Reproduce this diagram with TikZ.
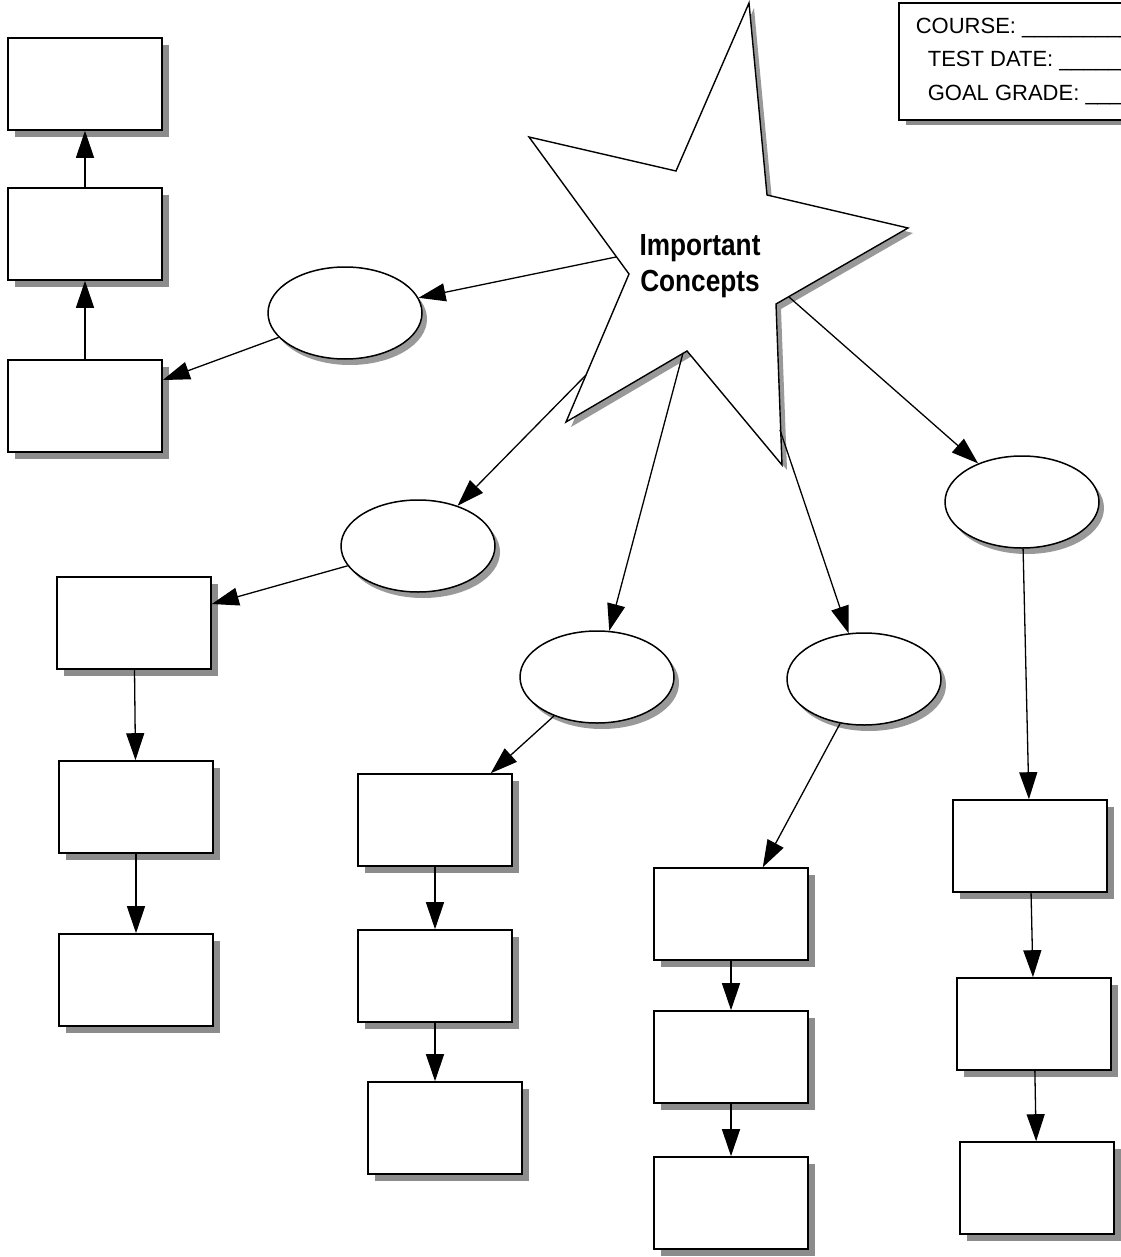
\documentclass[tikz,border=0pt]{standalone}
\usepackage{fontspec}
\setmainfont{Liberation Sans}
\newfontfamily\narrowsans[FakeStretch=0.86]{Liberation Sans}
\usetikzlibrary{arrows.meta,shadows,shapes.geometric}

\begin{document}
\begin{tikzpicture}[x=1pt,y=-1pt,
    box/.style={draw,line width=1.6pt,fill=white,minimum width=154pt,minimum height=92pt,inner sep=0pt,
        drop shadow={shadow xshift=7pt,shadow yshift=-7pt,fill=black!45,opacity=1}},
    blob/.style={draw,ellipse,line width=1.5pt,fill=white,minimum width=154pt,minimum height=92pt,inner sep=0pt,
        drop shadow={shadow xshift=5pt,shadow yshift=-6pt,fill=black,opacity=0.4}},
    arr/.style={line width=1.3pt,-{Triangle[length=27pt,width=18pt]}}]
    \useasboundingbox[fill=white] (0,0) rectangle (1120,1257);

    % Header box
    \node[draw,line width=1.6pt,fill=white,anchor=north west,minimum width=300pt,minimum height=117pt,
        inner xsep=17pt,align=left,font=\fontsize{22}{33.5}\selectfont,
        drop shadow={shadow xshift=7pt,shadow yshift=-5pt,fill=black!45,opacity=1}]
        (course) at (898,2) {COURSE: \_\_\_\_\_\_\_\_\_\_\_\_\\
        \hspace*{12pt}TEST DATE: \_\_\_\_\_\_\_\_\_\_\\
        \hspace*{12pt}GOAL GRADE: \_\_\_\_\_\_\_\_};

    % Star
    \filldraw[fill=white,line width=1.4pt,line join=miter,
        drop shadow={shadow xshift=5pt,shadow yshift=-5pt,fill=black,opacity=0.4}]
        (749,3) -- (767,195) -- (908,228) -- (776,304) -- (782,465) -- (687,351)
        -- (566,422) -- (629,274) -- (529,137) -- (676,171) -- cycle;
    \node[font=\narrowsans\fontsize{30.5}{36}\selectfont\bfseries,align=center] (star) at (700,266) {Important\\Concepts};
    \coordinate (s1) at (616,257);
    \coordinate (s2) at (586,375);
    \coordinate (s3) at (683,353);
    \coordinate (s4) at (780,430);
    \coordinate (s5) at (789,297);

    % Ovals
    \node[blob] (e1) at (345,313) {};
    \node[blob] (e2) at (418,546) {};
    \node[blob] (e3) at (597,677) {};
    \node[blob] (e4) at (864,679) {};
    \node[blob] (e5) at (1022,502) {};

    % Boxes
    \node[box] (b1) at (85,84) {};
    \node[box] (b2) at (85,234) {};
    \node[box] (b3) at (85,406) {};
    \node[box] (b4) at (134,623) {};
    \node[box] (b5) at (136,807) {};
    \node[box] (b6) at (136,980) {};
    \node[box] (b7) at (435,820) {};
    \node[box] (b8) at (435,976) {};
    \node[box] (b9) at (445,1128) {};
    \node[box] (b10) at (731,914) {};
    \node[box] (b11) at (731,1057) {};
    \node[box] (b12) at (731,1203) {};
    \node[box] (b13) at (1030,846) {};
    \node[box] (b14) at (1034,1024) {};
    \node[box] (b15) at (1037,1188) {};

    % Connections
    \draw[arr] (s1) -- (e1);
    \draw[arr] (s2) -- (e2);
    \draw[arr] (s3) -- (e3);
    \draw[arr] (s4) -- (e4);
    \draw[arr] (s5) -- (e5);

    \draw[arr] (e1) -- ([yshift=26pt]b3.east);
    \draw[arr] (b3) -- (b2);
    \draw[arr] (b2) -- (b1);

    \draw[arr] (e2) -- ([yshift=19pt]b4.east);
    \draw[arr] (b4) -- (b5);
    \draw[arr] (b5) -- (b6);

    \draw[arr] (e3) -- ([xshift=-22pt]b7.north east);
    \draw[arr] (b7) -- (b8);
    \draw[arr] (b8.south) -- (b8.south |- b9.north);

    \draw[arr] (e4) -- ([xshift=-46pt]b10.north east);
    \draw[arr] (b10) -- (b11);
    \draw[arr] (b11) -- (b12);

    \draw[arr] (e5) -- (b13);
    \draw[arr] (b13) -- (b14);
    \draw[arr] (b14) -- (b15);
\end{tikzpicture}
\end{document}
